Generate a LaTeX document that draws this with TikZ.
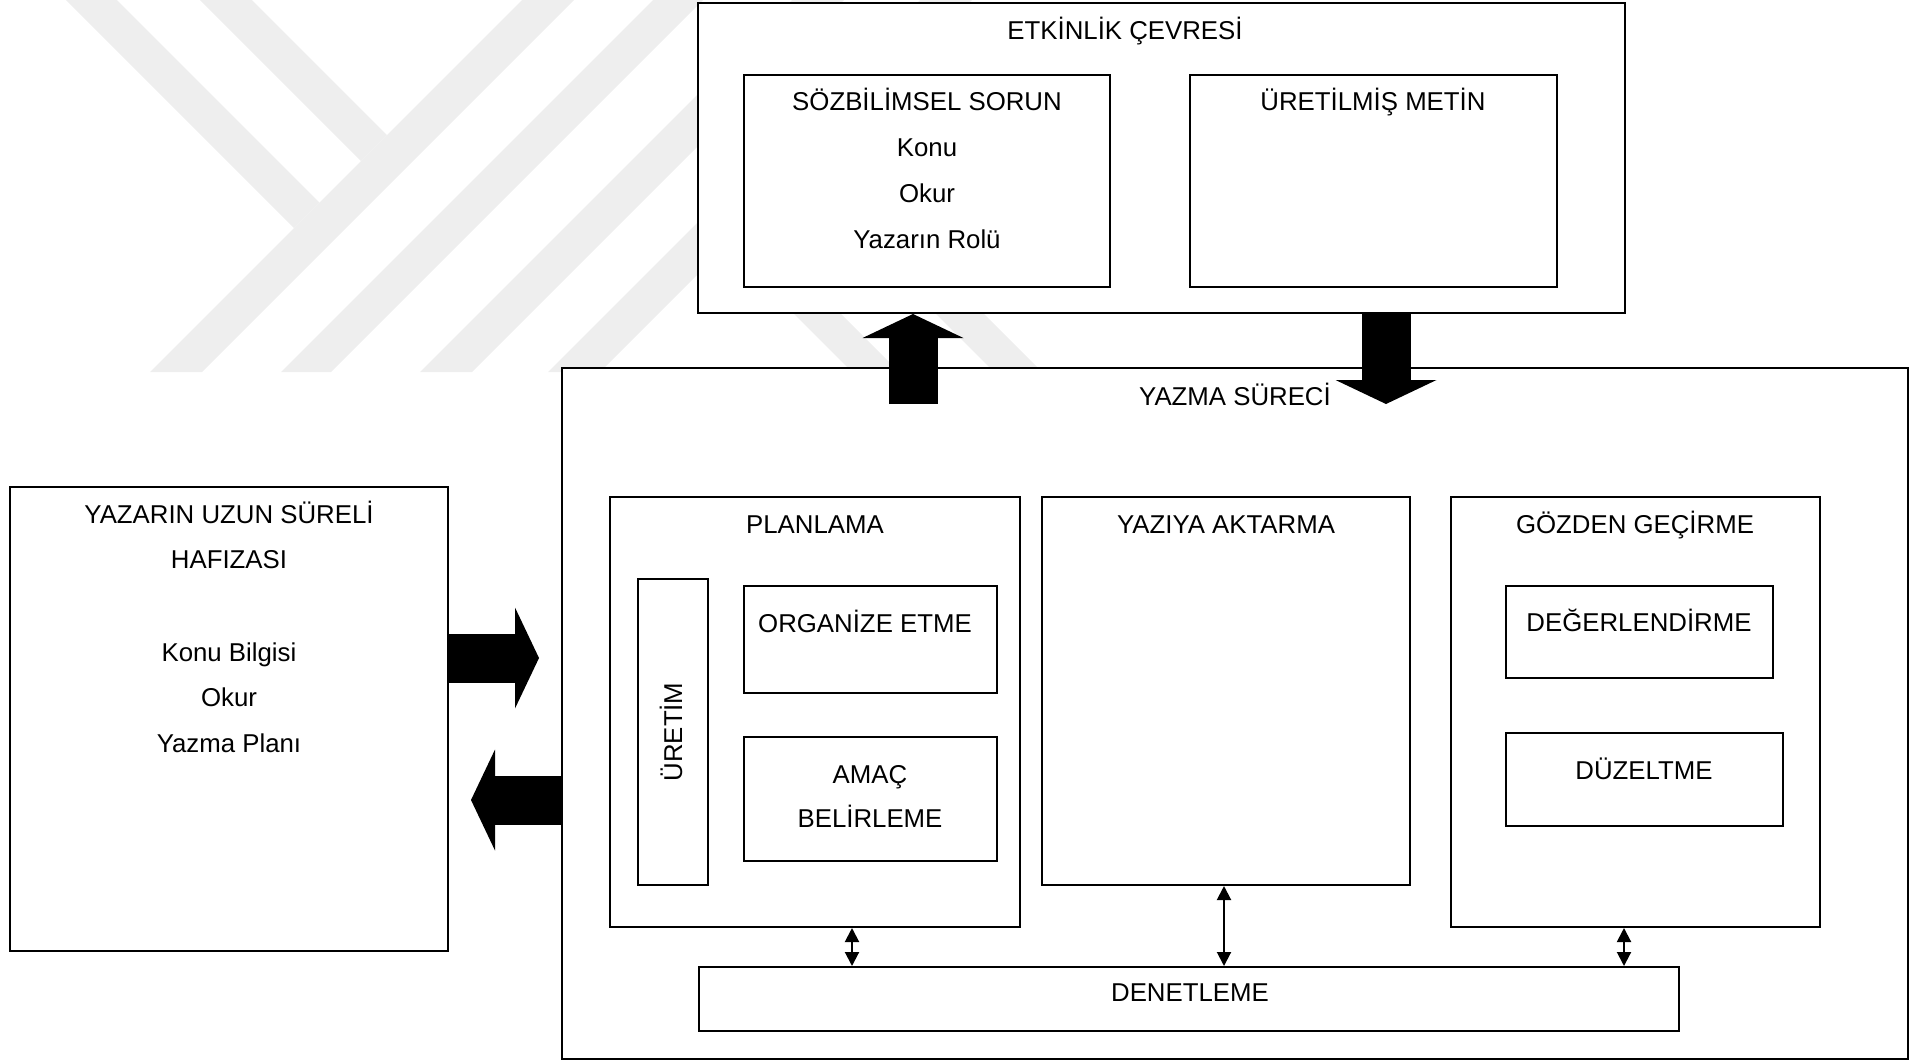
\documentclass[tikz,border=0pt]{standalone}
\usepackage{fontspec}
\setmainfont{Liberation Sans}
\usetikzlibrary{arrows.meta,calc,fit}
\definecolor{filigran}{RGB}{238,238,238}
\tikzset{
  kutu/.style = {rectangle, draw=black, fill=white, line width=1pt,
    inner sep=0pt},% duz kutu
  yazi/.style = {anchor=base, inner sep=0pt,
    font=\fontsize{12.9}{15}\selectfont},% kutu yazisi
  kalin_ok/.style = {line width=24.5pt,
    -{Triangle[length=12pt, width=50.5pt, line width=0pt]}},% blok ok
  cift_ok/.style = {line width=1pt,
    {Triangle[length=7pt, width=7pt]}-{Triangle[length=7pt, width=7pt]}}% iki yonlu ok
}
\begin{document}
\begin{tikzpicture}[x=0.5pt, y=-0.5pt]
\useasboundingbox (0,0) rectangle (1923,1061);
% filigran
\fill[filigran] (66,0) -- (117,0) -- (319.5,202.5) -- (294,228) -- cycle;
\fill[filigran] (200,0) -- (252,0) -- (387,135) -- (361,161) -- cycle;
\fill[filigran] (522,0) -- (574,0) -- (202,372) -- (150,372) -- cycle;
\fill[filigran] (653,0) -- (703,0) -- (331,372) -- (281,372) -- cycle;
\fill[filigran] (792,0) -- (844,0) -- (472,372) -- (420,372) -- cycle;
\fill[filigran] (920,0) -- (972,0) -- (600,372) -- (548,372) -- cycle;
\fill[filigran] (780,300) -- (827,300) -- (899,372) -- (852,372) -- cycle;
\fill[filigran] (922,300) -- (970,300) -- (1042,372) -- (994,372) -- cycle;

% etkinlik cevresi
\node[kutu, fit={(698,3) (1625,313)}] (etkinlik) {};
\node[kutu, fit={(744,75) (1110,287)}] (sozbilimsel) {};
\node[kutu, fit={(1190,75) (1557,287)}] (uretilmis) {};
\node[yazi] (etkinlik_y) at (1125,39) {ETKİNLİK ÇEVRESİ};
\node[yazi] (sozbilimsel_y) at (927,110) {SÖZBİLİMSEL SORUN};
\node[yazi] (konu_y) at (927,156) {Konu};
\node[yazi] (okur_y) at (927,202) {Okur};
\node[yazi] (rol_y) at (927,248) {Yazarın Rolü};
\node[yazi] (uretilmis_y) at (1373,110) {ÜRETİLMİŞ METİN};

% uzun sureli hafiza
\node[kutu, fit={(10,487) (448,951)}] (yazar) {};
\node[yazi] (yazar_y1) at (229,523) {YAZARIN UZUN SÜRELİ};
\node[yazi] (yazar_y2) at (229,568) {HAFIZASI};
\node[yazi] (bilgi_y) at (229,661) {Konu Bilgisi};
\node[yazi] (okur2_y) at (229,706) {Okur};
\node[yazi] (plan_y) at (229,752) {Yazma Planı};

% yazma sureci
\node[kutu, fit={(562,368) (1908,1059)}] (yazma) {};
\node[yazi] (yazma_y) at (1235,405) {YAZMA SÜRECİ};
\node[kutu, fit={(610,497) (1020,927)}] (planlama) {};
\node[kutu, fit={(1042,497) (1410,885)}] (yaziya) {};
\node[kutu, fit={(1451,497) (1820,927)}] (gozden) {};
\node[yazi] (planlama_y) at (815,533) {PLANLAMA};
\node[yazi] (yaziya_y) at (1226,533) {YAZIYA AKTARMA};
\node[yazi] (gozden_y) at (1635,533) {GÖZDEN GEÇİRME};
\node[kutu, fit={(638,579) (708,885)}] (uretim) {};
\node[yazi, rotate=90] (uretim_y) at (682,732) {ÜRETİM};
\node[kutu, fit={(744,586) (997,693)}] (organize) {};
\node[yazi] (organize_y) at (865,632) {ORGANİZE ETME};
\node[kutu, fit={(744,737) (997,861)}] (amac) {};
\node[yazi] (amac_y1) at (870,783) {AMAÇ};
\node[yazi] (amac_y2) at (870,827) {BELİRLEME};
\node[kutu, fit={(1506,586) (1773,678)}] (degerlendirme) {};
\node[yazi] (degerlendirme_y) at (1639,631) {DEĞERLENDİRME};
\node[kutu, fit={(1506,733) (1783,826)}] (duzeltme) {};
\node[yazi] (duzeltme_y) at (1644,779) {DÜZELTME};
\node[kutu, fit={(699,967) (1679,1031)}] (denetleme) {};
\node[yazi] (denetleme_y) at (1190,1001) {DENETLEME};

% oklar
\coordinate (yukarikok) at (913,404);
\coordinate (asagiucu) at (1386,404);
\coordinate (sagucu) at (539,658);
\coordinate (solucu) at (471,800);
\draw[kalin_ok] (yukarikok) -- (yukarikok |- etkinlik.south);
\draw[kalin_ok] (asagiucu |- etkinlik.south) -- (asagiucu);
\draw[kalin_ok] (sagucu -| yazar.east) -- (sagucu);
\draw[kalin_ok] (solucu -| yazma.west) -- (solucu);

\coordinate (plan_ok) at (852,947);
\coordinate (yazi_ok) at (1224,926);
\coordinate (gozden_ok) at (1624,947);
\draw[cift_ok] (plan_ok |- planlama.south) -- (plan_ok |- denetleme.north);
\draw[cift_ok] (yazi_ok |- yaziya.south) -- (yazi_ok |- denetleme.north);
\draw[cift_ok] (gozden_ok |- gozden.south) -- (gozden_ok |- denetleme.north);
\end{tikzpicture}
\end{document}
